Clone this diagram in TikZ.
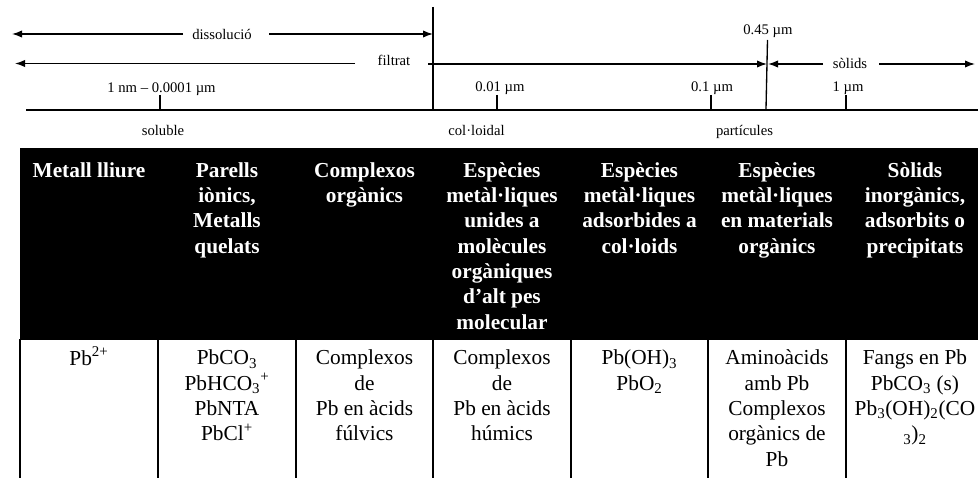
\documentclass[tikz,border=0pt]{standalone}
\usepackage{fontspec}
\setmainfont{Liberation Serif}
\usetikzlibrary{arrows.meta}
\lineskiplimit=-100pt
\begin{document}
\begin{tikzpicture}[x=0.75pt,y=-0.75pt,
  lbl/.style={font=\fontsize{11}{13}\selectfont, inner sep=0pt, anchor=base},
  rule/.style={line width=1pt, black},
  arr/.style={rule, -{Latex[length=7.5pt,width=5.5pt]}},
  hd/.style={font=\fontsize{16}{19}\selectfont\bfseries, text=white,
             align=center, inner sep=0pt, anchor=north},
  cell/.style={font=\fontsize{16}{19}\selectfont,
               align=center, inner sep=0pt, anchor=north},
  gridline/.style={line width=1.3pt, black}
]
\useasboundingbox (0,0) rectangle (978,478);

% ---- size scale ----
\node[lbl] (dis) at (222,40) {dissolució};
\node[lbl] (fil) at (394,66) {filtrat};
\node[lbl] (sol) at (850,69) {sòlids};
\node[lbl] (p45) at (768,35) {0.45 µm};
\node[lbl] (t1) at (161.5,93) {1 nm – 0.0001 µm};
\node[lbl] (t2) at (500,92) {0.01 µm};
\node[lbl] (t3) at (712,92) {0.1 µm};
\node[lbl] (t4) at (848,92) {1 µm};
\node[lbl] (r1) at (163,135) {soluble};
\node[lbl] (r2) at (476.5,135) {col·loidal};
\node[lbl] (r3) at (744.5,135) {partícules};

% end points of the range arrows and scale lines
\coordinate (d0) at (12,34);   \coordinate (d1) at (183,34);
\coordinate (d2) at (269,34);  \coordinate (d3) at (433,34);
\coordinate (f0) at (15,63.5); \coordinate (f1) at (355,63.5);
\coordinate (f2) at (428,64);  \coordinate (f3) at (767,64);
\coordinate (s0) at (768,64);  \coordinate (s1) at (823,64);
\coordinate (s2) at (879,64);  \coordinate (s3) at (975,64);
\coordinate (vtop) at (433,7); \coordinate (vbot) at (433,110);
\coordinate (qtop) at (767.5,40); \coordinate (qbot) at (766,109);
\coordinate (ax0) at (26,110); \coordinate (ax1) at (978,110);

\draw[arr] (d1) -- (d0);
\draw[arr] (d2) -- (d3);
\draw[arr] (f1) -- (f0);
\draw[arr] (f2) -- (f3);
\draw[arr] (s1) -- (s0);
\draw[arr] (s2) -- (s3);
\draw[rule] (vtop) -- (vbot);
\draw[rule] (qtop) -- (qbot);
\draw[rule] (ax0) -- (ax1);
\foreach \x in {160,497,711,846}
  \draw[rule] (\x,95) -- (\x,110);

% ---- table ----
\fill[black] (20,147.5) rectangle (978,340);
\foreach \x in {20,158,296,433,571,708,846}
  \draw[gridline] (\x,339) -- (\x,478);

% header row
\node[hd] (h1) at (89,159.3)    {\strut Metall lliure};
\node[hd] (h2) at (227,159.3)   {\strut Parells\\iònics,\\Metalls\\quelats};
\node[hd] (h3) at (364.5,159.3) {\strut Complexos\\orgànics};
\node[hd] (h4) at (502,159.3)   {\strut Espècies\\metàl·liques\\unides a\\molècules\\orgàniques\\d’alt pes\\molecular};
\node[hd] (h5) at (639.5,159.3) {\strut Espècies\\metàl·liques\\adsorbides a\\col·loids};
\node[hd] (h6) at (777,159.3)   {\strut Espècies\\metàl·liques\\en materials\\orgànics};
\node[hd] (h7) at (915,159.3)   {\strut Sòlids\\inorgànics,\\adsorbits o\\precipitats};

% example species
\node[cell] (c1) at (89,346.8)    {\strut Pb\textsuperscript{2+}};
\node[cell] (c2) at (227,346.8)   {\strut PbCO\textsubscript{3}\\PbHCO\textsubscript{3}\textsuperscript{+}\\PbNTA\\PbCl\textsuperscript{+}};
\node[cell] (c3) at (364.5,346.8) {\strut Complexos\\de\\Pb en àcids\\fúlvics};
\node[cell] (c4) at (502,346.8)   {\strut Complexos\\de\\Pb en àcids\\húmics};
\node[cell] (c5) at (639.5,346.8) {\strut Pb(OH)\textsubscript{3}\\PbO\textsubscript{2}};
\node[cell] (c6) at (777,346.8)   {\strut Aminoàcids\\amb Pb\\Complexos\\orgànics de\\Pb};
\node[cell] (c7) at (915,346.8)   {\strut Fangs en Pb\\PbCO\textsubscript{3} (s)\\Pb\textsubscript{3}(OH)\textsubscript{2}(CO\\\textsubscript{3})\textsubscript{2}};
\end{tikzpicture}
\end{document}
